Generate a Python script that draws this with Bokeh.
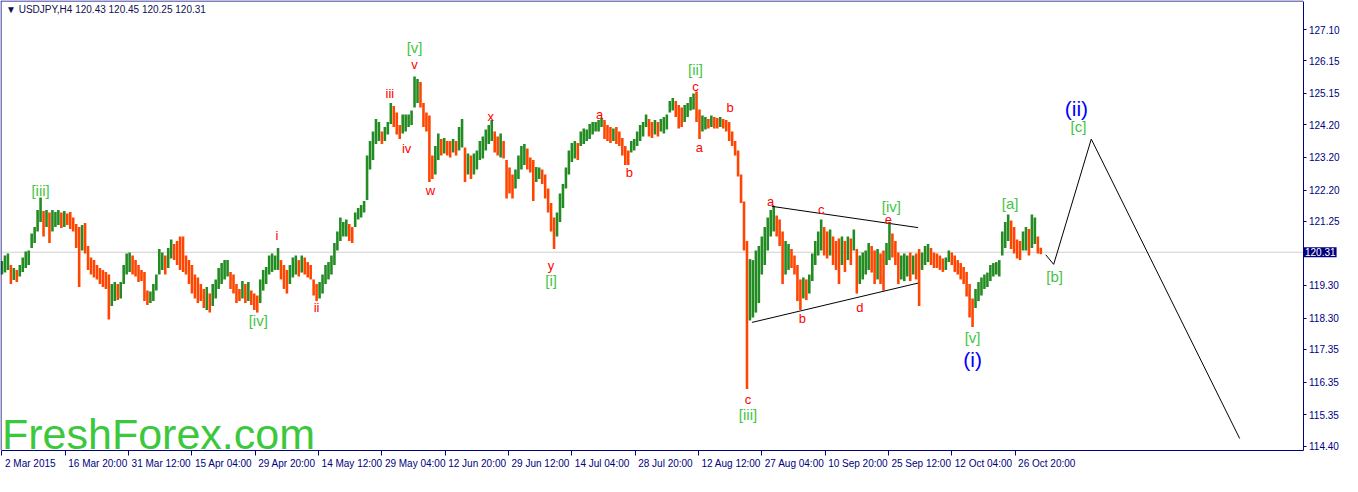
from bokeh.plotting import figure
from bokeh.models import Range1d, LinearAxis, FixedTicker, NumeralTickFormatter, Label
from bokeh.embed import file_html
from bokeh.resources import INLINE

# ---------------- data ----------------
symbol_title = "\u25BC USDJPY,H4  120.43 120.45 120.25 120.31"
last_price = 120.31

bar_high = [
    120.04,120.21,120.27,119.92,119.83,119.77,119.92,120.15,120.33,120.36,
    120.88,121.08,121.60,121.98,121.57,121.60,121.52,121.60,121.54,121.60,
    121.52,121.57,121.49,121.54,121.37,121.17,121.08,121.14,121.20,120.50,
    120.15,120.07,119.92,119.83,119.77,119.71,119.63,119.34,119.40,119.34,
    119.40,119.92,120.27,120.30,120.21,120.07,119.92,119.77,119.71,119.14,
    119.11,119.34,119.63,120.41,120.30,120.21,120.44,120.70,120.56,120.65,
    120.79,120.79,120.21,120.07,119.92,119.63,119.54,119.34,119.19,119.25,
    119.05,119.34,119.48,119.83,119.98,120.07,120.07,119.71,119.63,119.34,
    119.19,119.43,119.34,119.40,119.14,119.05,118.99,119.48,119.77,
    119.86,120.21,120.27,120.21,120.44,120.07,119.92,119.77,119.92,120.15,
    120.21,120.07,120.21,120.15,120.01,119.92,119.48,119.34,119.40,119.63,
    119.92,120.01,120.21,120.59,120.94,121.37,121.23,121.31,121.17,121.08,
    121.52,121.66,121.75,121.87,
    123.26,123.70,123.99,124.37,124.28,123.99,124.13,124.28,124.86,124.77,
    124.57,124.19,124.51,124.51,124.51,124.63,125.67,125.59,125.50,124.86,
    124.57,124.48,123.26,123.55,123.93,123.76,123.79,123.70,123.70,123.76,
    123.70,124.13,124.37,123.50,123.32,123.26,123.32,123.41,123.70,123.84,
    124.05,124.19,124.34,123.99,123.84,123.93,123.70,123.12,122.89,122.68,
    122.83,123.26,123.55,123.61,123.47,
    123.20,123.12,122.91,122.89,122.83,122.68,122.25,121.81,121.37,121.52,
    122.10,122.39,122.89,123.41,123.64,123.70,123.64,123.99,124.08,124.05,
    124.22,124.28,124.28,124.34,124.40,124.34,124.19,124.13,124.08,124.13,
    123.99,123.79,123.55,123.41,123.70,123.76,123.99,124.19,124.28,124.51,
    124.37,124.28,124.34,124.28,124.37,124.43,124.51,124.92,125.01,124.92,
    124.80,124.72,124.80,124.86,125.04,125.15,125.21,124.66,124.48,124.43,
    124.37,124.48,124.43,124.40,124.43,124.37,124.34,124.28,123.99,123.70,
    123.41,122.68,121.86,120.65,120.10,
    120.07,120.36,120.50,120.79,121.08,121.37,121.60,121.72,121.43,121.31,
    120.94,120.65,120.56,120.41,120.21,119.92,119.48,119.54,119.48,119.63,
    120.27,120.65,120.94,121.31,121.08,120.94,121.00,120.79,120.65,120.73,
    120.79,120.65,120.79,120.73,121.00,120.41,120.21,120.30,120.36,120.59,
    120.50,120.36,120.41,120.27,120.36,120.59,121.23,120.88,120.65,120.30,
    120.21,120.27,120.21,120.30,120.21,120.27,120.41,120.30,120.50,120.56,
    120.44,120.30,120.27,120.21,120.12,120.15,120.36,120.30,120.21,120.07,
    119.98,119.86,119.71,119.34,118.90,119.19,119.40,119.54,119.63,119.69,
    119.92,119.98,120.01,120.07,120.94,121.23,121.46,121.28,121.08,120.70,
    120.65,120.94,121.08,121.02,121.46,121.37,120.79,120.45,
]

bar_low = [
    119.63,119.69,119.77,119.34,119.46,119.40,119.57,119.71,119.83,119.92,
    120.44,120.59,120.94,121.23,120.79,121.08,120.59,120.94,121.08,121.14,
    121.05,121.08,121.14,121.02,120.94,120.44,119.25,120.36,120.27,119.77,
    119.63,119.54,119.48,119.34,119.25,119.19,118.26,118.67,118.82,118.85,
    118.90,119.34,119.63,119.71,119.63,119.57,119.40,119.43,118.82,118.70,
    118.76,118.82,119.14,119.63,119.77,119.63,119.83,120.12,120.07,119.92,
    119.77,119.71,119.63,119.34,119.05,118.90,118.76,118.82,118.61,118.55,
    118.47,118.67,118.90,119.19,119.34,119.48,119.57,119.19,119.05,118.76,
    118.82,118.90,118.76,118.82,118.70,118.55,118.47,118.76,119.14,
    119.34,119.63,119.71,119.77,119.77,119.48,119.19,119.05,119.34,119.54,
    119.63,119.57,119.69,119.63,119.54,119.48,118.99,118.82,118.90,119.05,
    119.34,119.48,119.63,119.92,120.36,120.65,120.79,120.79,120.65,120.59,
    121.08,121.31,121.37,121.52,
    121.90,122.83,123.12,123.61,123.70,123.61,123.70,123.90,124.22,124.13,
    123.90,123.76,123.93,123.99,124.13,124.19,124.72,124.86,124.72,124.13,
    123.99,122.45,122.54,122.68,123.12,123.26,123.32,123.26,123.20,123.35,
    123.26,123.41,123.50,122.45,122.68,122.54,122.68,122.83,123.12,123.17,
    123.41,123.61,123.70,123.35,123.26,123.20,123.17,121.95,122.10,121.95,
    122.25,122.54,122.83,122.97,122.83,
    122.74,121.87,122.45,122.54,122.39,121.95,121.52,120.94,120.41,120.79,
    121.23,121.66,122.25,122.68,123.06,123.17,123.12,123.55,123.61,123.70,
    123.76,123.90,123.99,123.99,124.13,123.76,123.70,123.64,123.70,123.61,
    123.55,123.26,122.97,122.97,123.35,123.41,123.55,123.70,123.84,124.13,
    123.84,123.79,123.90,123.84,123.99,123.93,124.05,124.57,124.63,124.43,
    124.08,124.13,124.28,124.43,124.63,124.66,124.28,123.76,123.99,124.05,
    124.08,124.13,124.08,124.08,124.13,124.08,123.99,123.70,123.55,123.26,
    122.62,121.81,120.36,116.14,118.23,
    118.32,118.47,118.76,119.63,119.92,120.36,120.79,120.94,120.79,120.50,
    119.34,119.63,119.77,119.83,119.63,118.82,118.55,118.90,118.85,119.05,
    119.43,119.92,120.21,120.36,120.21,120.12,120.21,119.92,119.77,119.34,
    119.92,119.71,120.07,119.92,120.36,119.05,119.34,119.48,119.63,119.77,
    119.69,119.34,119.48,119.34,119.14,119.92,120.07,120.15,119.92,119.34,
    119.48,119.43,119.57,119.43,119.63,119.48,118.67,119.77,119.92,120.01,
    119.92,119.83,119.83,119.77,119.71,119.77,120.01,119.92,119.71,119.63,
    119.48,119.34,118.96,118.32,118.03,118.61,118.82,118.99,119.19,119.25,
    119.43,119.57,119.63,119.57,120.21,120.44,120.65,120.41,120.27,120.12,
    120.07,120.36,120.36,120.21,120.44,120.56,120.27,120.25,
]

# price axis ticks
price_ticks = [127.10, 126.15, 125.15, 124.20, 123.20, 122.20, 121.25,
               119.30, 118.30, 117.35, 116.35, 115.35, 114.40]

# time axis (H4 bar index) and labels
date_tick_idx = [0, 64, 128, 192, 256, 320, 384, 448, 512, 576, 640, 704, 768, 832, 896, 960, 1024]
date_labels = ["2 Mar 2015", "16 Mar 20:00", "31 Mar 12:00", "15 Apr 04:00", "29 Apr 20:00",
               "14 May 12:00", "29 May 04:00", "12 Jun 20:00", "29 Jun 12:00", "14 Jul 04:00",
               "28 Jul 20:00", "12 Aug 12:00", "27 Aug 04:00", "10 Sep 20:00", "25 Sep 12:00",
               "12 Oct 04:00", "26 Oct 20:00"]

# triangle lines and projection path (bar index, price)
tri_upper_x = [778, 926]
tri_upper_y = [121.71, 121.06]
tri_lower_x = [758, 926]
tri_lower_y = [118.17, 119.37]
proj_x = [1055, 1063, 1101, 1251]
proj_y = [120.23, 119.94, 123.76, 114.63]

# wave labels
red_text = ["i", "ii", "iii", "iv", "v", "w", "x", "y", "a", "b", "c", "a", "b", "c",
            "a", "c", "b", "d", "e"]
red_x = [278, 318, 392, 409, 417, 433, 494, 555, 604, 634, 701, 705, 736, 754,
         777, 828, 809, 867, 896]
red_y = [120.82, 118.61, 125.15, 123.47, 126.03, 122.19, 124.46, 119.92, 124.51, 122.74,
         125.36, 123.50, 124.72, 115.82, 121.87, 121.61, 118.29, 118.64, 121.32]

green_text = ["[iii]", "[iv]", "[v]", "[i]", "[ii]", "[iii]", "[iv]", "[v]", "[a]", "[b]", "[c]"]
green_x = [39, 259, 417, 555, 701, 754, 899, 981, 1019, 1064, 1088]
green_y = [122.19, 118.23, 126.55, 119.46, 125.88, 115.36, 121.69, 117.71, 121.81, 119.57, 124.14]

blue_text = ["(i)", "(ii)"]
blue_x = [981, 1086]
blue_y = [117.04, 124.69]

watermark = "FreshForex.com"

# ---------------- styling / layout ----------------
W, H = 1342, 476
# chart box in data units: left/right edge (bar index) and bottom/top edge (price)
X0, X1 = -1, 1315
Y0, Y1 = 114.28, 127.97
# where that box sits on the canvas (pixels)
CX0, CX1 = 0.5, 1302.5
CY0, CY1 = 449.5, 0.5
sx = (CX1 - CX0) / (X1 - X0)
sy = (CY0 - CY1) / (Y1 - Y0)
XA = X0 - CX0 / sx
XB = XA + W / sx
YT = Y1 + CY1 / sy
YB = YT - H / sy
py = 1.0 / sy

UP = "#228B22"
DN = "#FF4500"
NAVY = "#000080"
FONT = "Liberation Sans"

p = figure(width=W, height=H, x_range=Range1d(XA, XB), y_range=Range1d(YB, YT),
           output_backend="svg", toolbar_location=None,
           x_axis_location=None, y_axis_location=None, min_border=0)
p.min_border_left = 0
p.min_border_right = 0
p.min_border_top = 0
p.min_border_bottom = 0
p.background_fill_color = "white"
p.border_fill_color = "white"
p.outline_line_color = None
p.xgrid.visible = False
p.ygrid.visible = False

# current price line (behind bars)
p.line([X0, X1], [last_price, last_price], line_color="#cfcfcf", line_width=1)

# bars
n = min(len(bar_high), len(bar_low))
bx = list(range(0, 3 * n, 3))
mids = [(bar_high[i] + bar_low[i]) / 2 for i in range(n)]
colors = [UP] + [UP if mids[i] >= mids[i - 1] else DN for i in range(1, n)]
p.vbar(x=bx, width=2.6, top=bar_high[:n], bottom=bar_low[:n],
       fill_color=colors, line_color=None)

# lines
p.line(tri_upper_x, tri_upper_y, line_color="black", line_width=1)
p.line(tri_lower_x, tri_lower_y, line_color="black", line_width=1)
p.line(proj_x, proj_y, line_color="black", line_width=1)

# chart border (left and top); right and bottom are the axes
p.line([X0, X0], [Y0, Y1], line_color=NAVY, line_width=1)
p.line([X0, X1], [Y1, Y1], line_color=NAVY, line_width=1)

# right price axis, fixed at the chart's right edge
yax = LinearAxis(ticker=FixedTicker(ticks=price_ticks),
                 formatter=NumeralTickFormatter(format="0.00"),
                 fixed_location=X1, bounds=(Y0, Y1))
yax.axis_line_color = NAVY
yax.major_tick_line_color = NAVY
yax.major_tick_out = 3
yax.major_tick_in = 0
yax.minor_tick_line_color = None
yax.major_label_text_color = NAVY
yax.major_label_text_font = FONT
yax.major_label_text_font_size = "10px"
yax.major_label_standoff = 3
p.add_layout(yax, "right")

# bottom time axis: tick marks as minor ticks, labels left-aligned after each mark
char_w = {" ": 0.278, ":": 0.278, "M": 0.833, "A": 0.667, "J": 0.5, "S": 0.667, "O": 0.778,
          "a": 0.556, "r": 0.333, "p": 0.556, "y": 0.5, "u": 0.556, "n": 0.556, "l": 0.222,
          "g": 0.556, "e": 0.556, "c": 0.5, "t": 0.278}
def text_w(s, size=10.0):
    return sum(char_w.get(ch, 0.556) for ch in s) * size

label_pos = [t + (3 + text_w(s) / 2) / sx for t, s in zip(date_tick_idx, date_labels)]
xax = LinearAxis(ticker=FixedTicker(ticks=label_pos, minor_ticks=date_tick_idx),
                 fixed_location=Y0, bounds=(X0, X1))
xax.axis_line_color = NAVY
xax.major_tick_line_color = None
xax.major_tick_out = 0
xax.major_tick_in = 0
xax.minor_tick_line_color = NAVY
xax.minor_tick_out = 5
xax.minor_tick_in = 0
xax.major_label_overrides = {lp: s for lp, s in zip(label_pos, date_labels)}
xax.major_label_text_color = NAVY
xax.major_label_text_font = FONT
xax.major_label_text_font_size = "10px"
xax.major_label_standoff = 3
p.add_layout(xax, "below")

# last price box over the price axis labels
p.add_layout(Label(x=X1, y=last_price, x_offset=1,
                   text="120.31", text_align="left", text_baseline="middle",
                   text_color="white", text_font=FONT, text_font_size="10px",
                   background_fill_color=NAVY, padding=1))

# title
p.add_layout(Label(x=X0, y=Y1 - 8 * py, text=symbol_title, x_offset=5,
                   text_align="left", text_baseline="middle",
                   text_color="#101050", text_font=FONT, text_font_size="10px"))

# wave labels
for t, x, y in zip(red_text, red_x, red_y):
    p.add_layout(Label(x=x, y=y, text=t, text_align="center", text_baseline="middle",
                       text_color="#FF0000", text_font=FONT, text_font_size="13px"))
for t, x, y in zip(green_text, green_x, green_y):
    p.add_layout(Label(x=x, y=y, text=t, text_align="center", text_baseline="middle",
                       text_color="#44C444", text_font=FONT, text_font_size="15px"))
for t, x, y in zip(blue_text, blue_x, blue_y):
    p.add_layout(Label(x=x, y=y, text=t, text_align="center", text_baseline="middle",
                       text_color="#0000FF", text_font=FONT, text_font_size="21px"))

# watermark
p.add_layout(Label(x=X0, y=Y0 + 0.50, text=watermark, x_offset=1,
                   text_align="left", text_baseline="alphabetic",
                   text_color="#3CC83C", text_font=FONT, text_font_size="43px"))

open("out.html", "w").write(file_html(p, INLINE))
